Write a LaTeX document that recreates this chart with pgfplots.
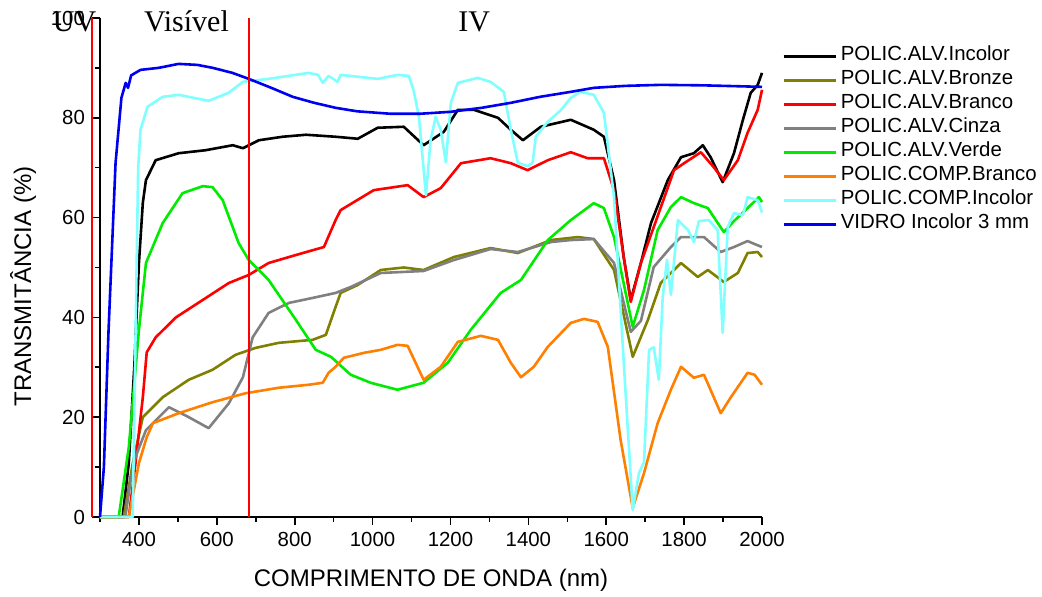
\documentclass[border=0pt]{standalone}
\usepackage{fontspec}
\setmainfont{Liberation Sans}
\newfontfamily\timesfont{Liberation Serif}
\usepackage{pgfplots}
\pgfplotsset{compat=1.18}
\definecolor{olivec}{RGB}{128,128,0}
\definecolor{grayc}{RGB}{128,128,128}
\definecolor{greenc}{RGB}{0,235,0}
\definecolor{orangec}{RGB}{255,128,0}
\definecolor{cyanc}{RGB}{128,255,255}
\definecolor{bluec}{RGB}{0,0,240}
\begin{document}
\begin{tikzpicture}
\path[use as bounding box] (-50pt,-40pt) rectangle (471pt,258.5pt);
\begin{axis}[
    scale only axis,
    width=331pt, height=249.5pt,
    xmin=300, xmax=2000, ymin=0, ymax=100,
    clip=false,
    axis x line*=bottom, axis y line*=left,
    axis line style={-, line width=0.9pt, black},
    tick align=outside,
    major tick length=4pt, minor tick length=2.5pt,
    every tick/.style={black, line width=0.8pt},
    xtick={400,600,...,2000}, minor xtick={300,500,...,1900},
    ytick={0,20,...,100}, minor ytick={10,30,...,90},
    /pgf/number format/assume math mode=true,
    /pgf/number format/1000 sep={},
    tick label style={font=\fontsize{10.2}{12}\selectfont},
    xlabel={COMPRIMENTO DE ONDA (nm)},
    ylabel={TRANSMITÂNCIA (\%)},
    label style={font=\fontsize{12}{14}\selectfont},
    xlabel style={at={(axis description cs:0.5,-0.126)}, anchor=center},
    ylabel style={at={(axis description cs:-0.116,0.462)}, anchor=center},
    legend style={at={(rel axis cs:1.03,0.948)}, anchor=north west, draw=none, fill=none,
        inner sep=0pt, font=\fontsize{10.2}{12}\selectfont,
        nodes={inner ysep=0pt, inner xsep=2pt, text height=8pt, text depth=4pt}},
    legend cell align=left,
    legend image code/.code={\draw[#1, line width=1.3pt] (0pt,0pt) -- (26pt,0pt);},
    every axis plot/.append style={line width=1.3pt, line join=round},
]
\addplot[black] coordinates {
(300,0) (358,0) (374,10.8) (388,30) (400,50.9) (410,63) (418,67.5) (443,71.5) (502,72.9) (571,73.5) (641,74.5) (667,73.9) (708,75.5) (769,76.2) (829,76.6) (905,76.2) (962,75.8) (1013,78) (1080,78.2) (1131,74.5) (1183,77.2) (1219,81.6) (1260,81.6) (1322,80) (1355,77.6) (1386,75.5) (1432,78.2) (1509,79.6) (1568,77.6) (1594,76.2) (1620,67.5) (1645,52) (1663,43.5) (1689,50.9) (1715,58.9) (1758,67.5) (1792,72.1) (1825,72.9) (1848,74.5) (1868,72.1) (1899,67.1) (1928,72.9) (1951,79.6) (1971,85) (1989,86.6) (2000,89)
};
\addplot[olivec] coordinates {
(300,0) (361,0) (384,10.7) (410,20) (461,24) (528,27.5) (589,29.5) (648,32.5) (700,33.9) (759,34.9) (846,35.5) (880,36.5) (905,42.1) (918,44.9) (962,46.5) (1021,49.5) (1080,50) (1131,49.5) (1209,52.1) (1303,53.9) (1373,52.9) (1458,55.5) (1527,56.1) (1568,55.7) (1620,49.5) (1668,32.1) (1707,39.5) (1740,46.9) (1792,50.9) (1835,48.1) (1861,49.5) (1902,47.1) (1938,48.9) (1963,52.9) (1989,53.1) (2000,52.1)
};
\addplot[red] coordinates {
(300,0) (374,0) (390,10) (410,24) (420,33) (443,36) (495,40) (564,43.5) (631,46.9) (682,48.5) (733,50.9) (803,52.5) (875,54.1) (905,59.5) (918,61.5) (1003,65.5) (1090,66.5) (1131,64.1) (1175,65.9) (1227,70.9) (1303,71.9) (1355,70.9) (1398,69.5) (1450,71.5) (1509,73.1) (1552,71.9) (1594,71.9) (1620,65.5) (1645,52) (1663,43.1) (1689,50.9) (1722,58.1) (1774,69.5) (1800,70.9) (1843,73.1) (1876,70.1) (1902,67.5) (1938,71.5) (1963,77) (1989,81.6) (2000,85.6)
};
\addplot[grayc] coordinates {
(300,0) (365,0) (380,8) (391,12) (418,17.4) (477,22) (528,20) (579,17.8) (631,22.8) (667,28) (692,36) (733,40.9) (785,42.9) (846,43.9) (905,44.9) (944,46.1) (1021,48.9) (1131,49.3) (1209,51.5) (1303,53.7) (1373,53.1) (1458,55.1) (1509,55.5) (1568,55.7) (1620,50.9) (1663,37.1) (1689,39.3) (1722,50.1) (1766,54.1) (1792,56.1) (1851,56.1) (1894,53.1) (1928,54.1) (1963,55.3) (1981,54.7) (2000,54.1)
};
\addplot[greenc] coordinates {
(300,0) (348,0) (374,14) (400,37.5) (418,50.9) (461,58.9) (512,64.9) (564,66.3) (589,66.1) (615,63.5) (656,54.9) (682,51.5) (733,47.5) (803,39.5) (854,33.5) (893,32.1) (944,28.5) (995,26.9) (1064,25.5) (1131,26.9) (1193,30.9) (1252,37.5) (1329,44.9) (1381,47.5) (1450,55.5) (1509,59.5) (1568,62.9) (1594,61.9) (1620,56.1) (1668,38.1) (1697,45.5) (1732,57.5) (1766,62.1) (1792,64.1) (1825,62.9) (1861,61.9) (1902,57.1) (1928,59.3) (1963,61.9) (1992,64.1) (2000,63.1)
};
\addplot[orangec] coordinates {
(300,0) (374,0) (400,10.8) (420,16) (436,18.8) (502,20.8) (589,23) (674,24.8) (759,25.9) (836,26.5) (872,26.9) (887,28.9) (905,30.1) (926,31.9) (978,32.9) (1021,33.5) (1064,34.5) (1090,34.3) (1131,27.5) (1175,30.1) (1219,35.1) (1278,36.3) (1322,35.5) (1355,30.9) (1381,28) (1414,30.1) (1450,34.1) (1509,38.9) (1543,39.7) (1578,39.1) (1604,34.1) (1637,15.4) (1668,1.8) (1697,8.8) (1732,18.8) (1766,25.5) (1792,30.1) (1825,27.9) (1851,28.5) (1894,20.8) (1920,24) (1963,28.9) (1981,28.5) (2000,26.5)
};
\addplot[cyanc] coordinates {
(300,0) (384,0) (392,40) (398,70) (404,77.6) (422,82.2) (461,84.2) (502,84.6) (579,83.4) (630,85) (667,87.2) (733,87.8) (836,89) (860,88.6) (872,87) (887,88.4) (910,87.2) (918,88.6) (1013,87.8) (1064,88.6) (1093,88.4) (1105,85.6) (1119,80.2) (1137,64.5) (1149,75.5) (1162,80.2) (1175,77.6) (1188,71.1) (1201,83) (1219,87) (1270,88) (1303,87.2) (1337,85.2) (1355,77.6) (1373,71) (1398,70.3) (1411,71) (1419,76.2) (1450,79.2) (1483,81.5) (1509,84) (1534,85.2) (1568,84.6) (1594,81) (1620,64.1) (1645,30.9) (1668,1.4) (1684,8.8) (1697,11) (1710,33.5) (1722,34) (1735,27.5) (1745,44.1) (1756,51.5) (1766,44.5) (1784,59.5) (1810,57.5) (1825,55.1) (1838,59.3) (1863,59.5) (1886,57.5) (1899,36.9) (1912,58.1) (1928,60.9) (1951,60.5) (1963,64.1) (1989,63.5) (2000,61)
};
\addplot[bluec] coordinates {
(300,0) (310,10) (322,37.5) (340,71) (355,84) (366,87) (372,86) (380,88.5) (404,89.6) (450,90) (502,90.8) (550,90.6) (590,90) (640,89) (682,87.8) (740,86) (795,84.2) (850,83) (905,82) (960,81.3) (1047,80.8) (1120,80.8) (1201,81.2) (1280,82) (1355,83) (1430,84.2) (1509,85.2) (1568,86) (1650,86.4) (1740,86.6) (1850,86.5) (1950,86.3) (2000,86.2)
};
\legend{POLIC.ALV.Incolor, POLIC.ALV.Bronze, POLIC.ALV.Branco, POLIC.ALV.Cinza, POLIC.ALV.Verde, POLIC.COMP.Branco, POLIC.COMP.Incolor, VIDRO Incolor 3 mm}
\addplot[red, line width=0.9pt, forget plot] coordinates {(280,0) (280,100)};
\addplot[red, line width=0.9pt, forget plot] coordinates {(683,0) (683,100)};
\node[anchor=base west, inner sep=0pt, font=\timesfont\fontsize{15}{18}\selectfont] at (axis cs:178,97.2) {UV};
\node[anchor=base west, inner sep=0pt, font=\timesfont\fontsize{15}{18}\selectfont] at (axis cs:412,97.2) {Visível};
\node[anchor=base west, inner sep=0pt, font=\timesfont\fontsize{15}{18}\selectfont] at (axis cs:1219,97.2) {IV};
\end{axis}
\end{tikzpicture}
\end{document}
